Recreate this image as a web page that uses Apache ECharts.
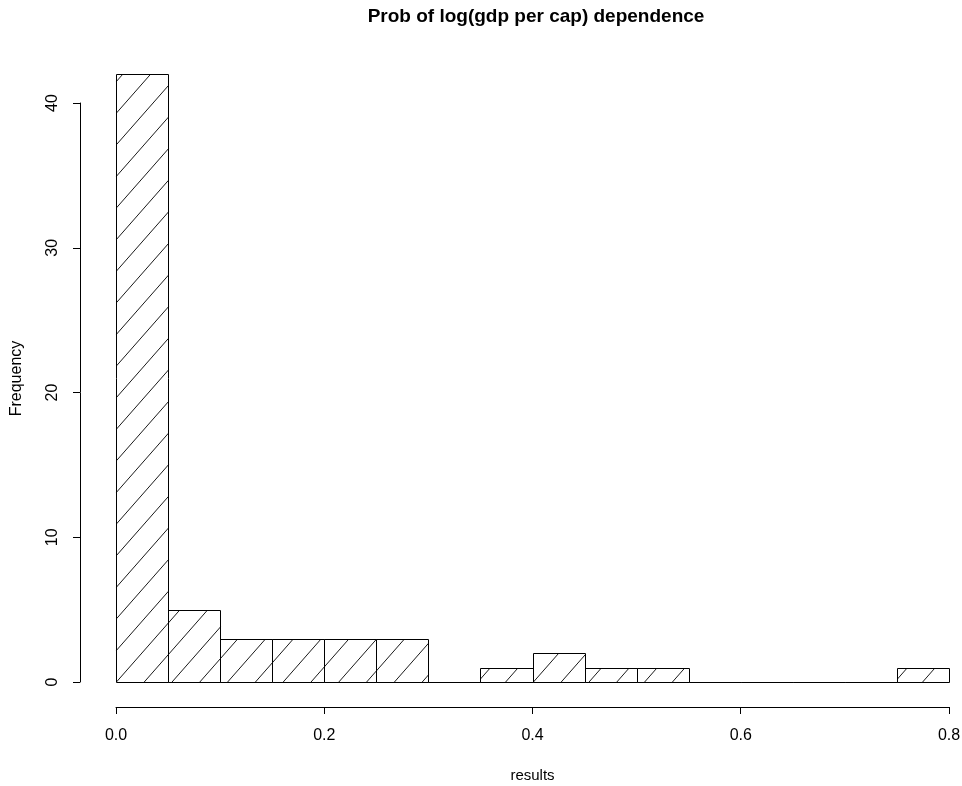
<!DOCTYPE html>
<html>
<head>
<meta charset="utf-8">
<script src="https://cdn.jsdelivr.net/npm/echarts@6/dist/echarts.min.js"></script>
<style>
html,body{margin:0;padding:0;background:#fff;}
#chart{width:962px;height:786px;}
</style>
</head>
<body>
<div id="chart"></div>
<script>
// Histogram bins (left edge, right edge) and counts
const binStarts = [0.00,0.05,0.10,0.15,0.20,0.25,0.30,0.35,0.40,0.45,0.50,0.55,0.60,0.65,0.70,0.75];
const binEnds   = [0.05,0.10,0.15,0.20,0.25,0.30,0.35,0.40,0.45,0.50,0.55,0.60,0.65,0.70,0.75,0.80];
const counts    = [42,5,3,3,3,3,0,1,2,1,1,0,0,0,0,1];
const xTicks = [0.0,0.2,0.4,0.6,0.8];
const yTicks = [0,10,20,30,40];

const data = binStarts.map((s,i)=>[s, binEnds[i], counts[i]]);

const HATCH_SPACING = 27.8; // px between hatch lines along baseline
const HATCH_SLOPE = 1.137;   // px up per px right

const chart = echarts.init(document.getElementById('chart'), null, {renderer:'canvas'});
const font = '"Liberation Sans", Arial, sans-serif';

chart.setOption({
  animation:false,
  backgroundColor:'#fff',
  title:{
    text:'Prob of log(gdp per cap) dependence',
    left:531, top:2, textAlign:'center',
    textStyle:{fontFamily:font, fontWeight:'bold', fontSize:19, color:'#000'}
  },
  grid:{left:116, right:13, top:103, bottom:104, containLabel:false, outerBoundsMode:'none'},
  xAxis:{
    type:'value', min:xTicks[0], max:xTicks[xTicks.length-1], interval:0.2, offset:25,
    name:'results', nameLocation:'middle', nameGap:61,
    nameTextStyle:{fontFamily:font, fontSize:15, color:'#000'},
    axisLine:{show:true, onZero:false, lineStyle:{color:'#000', width:1}},
    axisTick:{show:true, length:7, lineStyle:{color:'#000'}},
    axisLabel:{fontFamily:font, fontSize:16, color:'#000', margin:21,
      formatter:v=>v.toFixed(1)},
    splitLine:{show:false}
  },
  yAxis:{
    type:'value', min:yTicks[0], max:yTicks[yTicks.length-1], interval:10, offset:36,
    name:'Frequency', nameLocation:'middle', nameGap:55,
    nameTextStyle:{fontFamily:font, fontSize:16, color:'#000', padding:[0,0,0,28]},
    axisLine:{show:true, onZero:false, lineStyle:{color:'#000', width:1}},
    axisTick:{show:true, length:7, lineStyle:{color:'#000'}},
    axisLabel:{fontFamily:font, fontSize:16, color:'#000', rotate:90, margin:19},
    splitLine:{show:false}
  },
  series:[{
    type:'custom',
    clip:false,
    data:data,
    renderItem:function(params, api){
      const x0=api.value(0), x1=api.value(1), c=api.value(2);
      const p0=api.coord([x0,0]), p1=api.coord([x1,c]);
      const origin=api.coord([0,0]);
      const xl=Math.round(p0[0])+0.5, xr=Math.round(p1[0])+0.5;
      const yb=Math.round(p0[1])+0.5, yt=Math.round(p1[1])+0.5;
      const children=[];
      const H=yb-yt;
      if(H>0.5){
        const d=HATCH_SPACING, s=HATCH_SLOPE;
        const ox=origin[0];
        const kmin=Math.floor((xl-H/s-ox)/d)-1, kmax=Math.ceil((xr-ox)/d)+1;
        for(let k=kmin;k<=kmax;k++){
          const ck=ox+k*d;
          const a=Math.max(xl,ck), b=Math.min(xr,ck+H/s);
          if(b>a){
            children.push({type:'line', shape:{x1:a,y1:yb-s*(a-ck),x2:b,y2:yb-s*(b-ck)},
              style:{stroke:'#000', lineWidth:0.9}});
          }
        }
      }
      children.push({type:'rect', shape:{x:xl,y:yt,width:xr-xl,height:H},
        style:{stroke:'#000', fill:null, lineWidth:1}});
      return {type:'group', children:children};
    }
  }]
});
</script>
</body>
</html>
